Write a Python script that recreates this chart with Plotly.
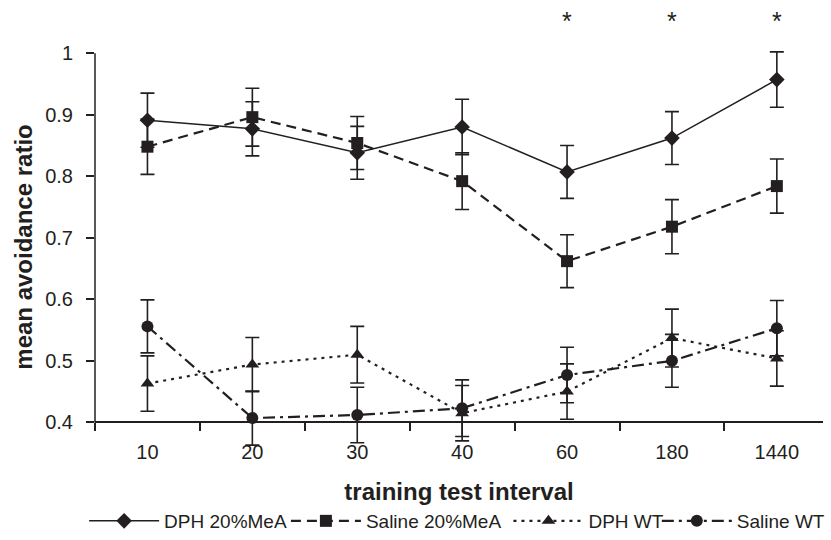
import plotly.graph_objects as go

categories = ["10", "20", "30", "40", "60", "180", "1440"]

dph_mea = [0.891, 0.877, 0.838, 0.880, 0.807, 0.862, 0.957]
dph_mea_err = [0.044, 0.044, 0.043, 0.045, 0.043, 0.043, 0.045]

sal_mea = [0.848, 0.896, 0.854, 0.792, 0.662, 0.718, 0.784]
sal_mea_err = [0.045, 0.047, 0.043, 0.046, 0.043, 0.044, 0.044]

dph_wt = [0.463, 0.494, 0.510, 0.415, 0.450, 0.537, 0.504]
dph_wt_err = [0.045, 0.044, 0.046, 0.045, 0.045, 0.047, 0.045]

sal_wt = [0.556, 0.407, 0.412, 0.423, 0.477, 0.500, 0.553]
sal_wt_err = [0.043, 0.044, 0.045, 0.046, 0.045, 0.043, 0.045]

star_categories = ["60", "180", "1440"]

y_ticks = [0.4, 0.5, 0.6, 0.7, 0.8, 0.9, 1.0]
y_ticktext = ["0.4", "0.5", "0.6", "0.7", "0.8", "0.9", "1"]

INK = "#231f20"
FONT = "Liberation Sans, Arial, sans-serif"

series = [
    ("DPH 20%MeA", dph_mea, dph_mea_err, "diamond", 12, "solid", 1.5, "legend"),
    ("Saline 20%MeA", sal_mea, sal_mea_err, "square", 12, "10px,6px", 2.2, "legend2"),
    ("DPH WT", dph_wt, dph_wt_err, "triangle-up", 12, "3px,5px", 2.2, "legend3"),
    ("Saline WT", sal_wt, sal_wt_err, "circle", 12, "12px,5px,3px,5px", 2.2, "legend4"),
]

fig = go.Figure()
for name, vals, errs, sym, size, dash, lw, leg in series:
    fig.add_trace(go.Scatter(
        x=categories, y=vals, name=name, mode="lines+markers",
        line=dict(color=INK, width=lw, dash=dash),
        marker=dict(symbol=sym, size=size, color=INK),
        error_y=dict(type="data", array=errs, visible=True, color=INK,
                     thickness=1.6, width=7),
        cliponaxis=False, legend=leg,
    ))

# significance stars
for c in star_categories:
    fig.add_annotation(x=categories.index(c), xref="x", y=1.066, yref="paper", text="*",
                       showarrow=False, font=dict(family=FONT, size=25, color=INK),
                       yanchor="middle")

# visible y-range is 0.4..1.0; the axis range is padded so error bars are not clipped
Y_LO, Y_HI = 0.36, 1.01
Y_AX0, Y_AX1 = 0.4, 1.0
fig.add_shape(type="line", xref="paper", x0=0, x1=0, yref="y", y0=Y_AX0, y1=Y_AX1,
              line=dict(color=INK, width=1.5))

leg_common = dict(orientation="h", yanchor="middle", xanchor="left",
                  bgcolor="rgba(0,0,0,0)", font=dict(family=FONT, size=19, color=INK),
                  itemwidth=70, borderwidth=0)
leg_px = [84, 288, 513, 663]
PLOT_L, PLOT_W = 95, 736
PX_PER_UNIT = 616.7
top_m = 52.7 - (Y_HI - Y_AX1) * PX_PER_UNIT
bot_m = 540 - (422.7 + (Y_AX0 - Y_LO) * PX_PER_UNIT)
plot_h = 540 - top_m - bot_m
leg_y = (540 - bot_m - 522) / plot_h

fig.update_layout(
    width=831, height=540,
    margin=dict(l=95, r=0, t=top_m, b=bot_m),
    paper_bgcolor="white", plot_bgcolor="white",
    font=dict(family=FONT, color=INK),
    showlegend=True,
    legend=dict(x=(leg_px[0] - PLOT_L) / PLOT_W, y=leg_y, **leg_common),
    legend2=dict(x=(leg_px[1] - PLOT_L) / PLOT_W, y=leg_y, **leg_common),
    legend3=dict(x=(leg_px[2] - PLOT_L) / PLOT_W, y=leg_y, **leg_common),
    legend4=dict(x=(leg_px[3] - PLOT_L) / PLOT_W, y=leg_y, **leg_common),
    xaxis=dict(
        type="category", range=[-0.5, 6.44], anchor="free",
        position=(Y_AX0 - Y_LO) / (Y_HI - Y_LO),
        showline=True, linecolor=INK, linewidth=1.5,
        ticks="outside", tickson="boundaries", ticklen=8, tickcolor=INK, tickwidth=1.5,
        ticklabelstandoff=12,
        showgrid=False, zeroline=False,
        tickfont=dict(family=FONT, size=20, color=INK),
        title=dict(text="<b>training test interval</b>", standoff=20,
                   font=dict(family=FONT, size=24, color=INK)),
    ),
    yaxis=dict(
        range=[Y_LO, Y_HI], showline=False,
        ticks="outside", ticklen=8, tickcolor=INK, tickwidth=1.5,
        tickvals=y_ticks, ticktext=y_ticktext, ticklabelstandoff=9,
        showgrid=False, zeroline=False,
        tickfont=dict(family=FONT, size=20, color=INK),
        title=dict(text="<b>mean avoidance ratio</b>", standoff=5,
                   font=dict(family=FONT, size=24, color=INK)),
    ),
)

fig.write_html("out.html")
